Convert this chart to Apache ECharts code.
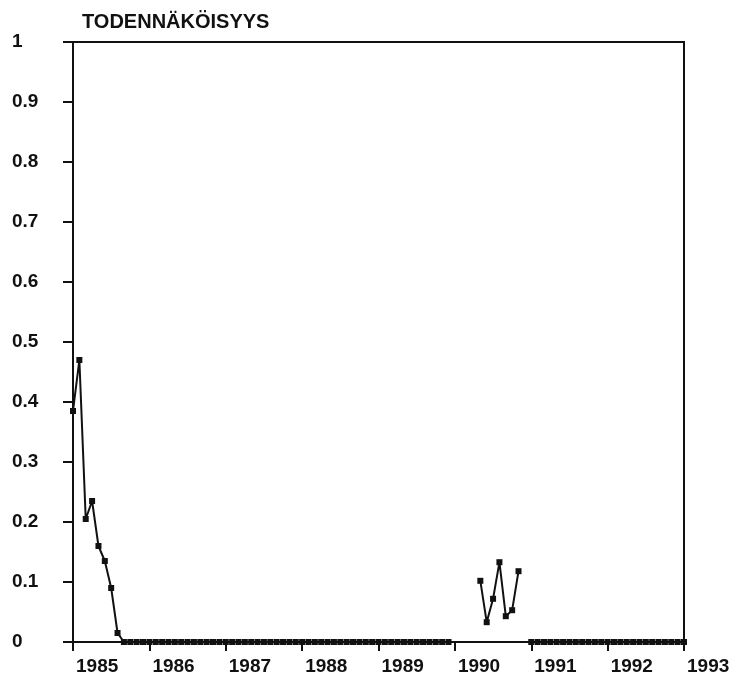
<!DOCTYPE html>
<html>
<head>
<meta charset="utf-8">
<script src="https://cdn.jsdelivr.net/npm/echarts@6/dist/echarts.min.js"></script>
<style>
html,body{margin:0;padding:0;background:#fff;}
#chart{width:738px;height:683px;}
</style>
</head>
<body>
<div id="chart"></div>
<script>
// monthly values, first month = Jan 1985
var startYear = 1985;
var yearTicks = [1985, 1986, 1987, 1988, 1989, 1990, 1991, 1992, 1993];
var probability = [
    0.385, 0.47, 0.205, 0.235, 0.16, 0.135, 0.09, 0.015,
    0, 0, 0, 0, 0, 0, 0, 0, 0, 0, 0, 0, 0, 0, 0, 0, 0, 0, 0, 0, 0, 0, 0, 0, 0, 0,
    0, 0, 0, 0, 0, 0, 0, 0, 0, 0, 0, 0, 0, 0, 0, 0, 0, 0, 0, 0, 0, 0, 0, 0, 0, 0,
    null, null, null, null,
    0.102, 0.033, 0.072, 0.133, 0.043, 0.053, 0.118,
    null,
    0, 0, 0, 0, 0, 0, 0, 0, 0, 0, 0, 0, 0, 0, 0, 0, 0, 0, 0, 0, 0, 0, 0, 0, 0
];

var seriesData = probability.map(function (v, i) {
    return [startYear + i / 12, v];
});

var chart = echarts.init(document.getElementById('chart'));
var font = 'Liberation Sans';
var option = {
    animation: false,
    backgroundColor: '#fff',
    title: {
        text: 'TODENNÄKÖISYYS',
        left: 77,
        top: 7,
        textStyle: {fontFamily: font, fontWeight: 'bold', fontSize: 20, color: '#111'}
    },
    grid: {
        left: 73, right: 54, top: 42, bottom: 41,
        show: true, borderColor: '#111', borderWidth: 2, backgroundColor: 'transparent'
    },
    xAxis: {
        type: 'value',
        min: yearTicks[0],
        max: yearTicks[yearTicks.length - 1],
        interval: 1,
        splitLine: {show: false},
        axisLine: {show: true, onZero: false, lineStyle: {color: '#111', width: 2}},
        axisTick: {show: true, length: 9, lineStyle: {color: '#111', width: 2}},
        axisLabel: {
            align: 'left', margin: 15, padding: [0, 0, 0, 3],
            fontFamily: font, fontWeight: 'bold', fontSize: 19, color: '#111',
            formatter: function (v) { return String(Math.round(v)); }
        }
    },
    yAxis: {
        type: 'value',
        min: 0, max: 1, interval: 0.1,
        splitLine: {show: false},
        axisLine: {show: true, lineStyle: {color: '#111', width: 2}},
        axisTick: {show: true, length: 10, lineStyle: {color: '#111', width: 2}},
        axisLabel: {
            align: 'left', margin: 61,
            fontFamily: font, fontWeight: 'bold', fontSize: 19, color: '#111',
            formatter: function (v) { return String(Math.round(v * 10) / 10); }
        }
    },
    series: [{
        type: 'line',
        data: seriesData,
        connectNulls: false,
        symbol: 'rect',
        symbolSize: 6,
        showAllSymbol: true,
        lineStyle: {color: '#111', width: 2},
        itemStyle: {color: '#111'}
    }]
};
chart.setOption(option);
</script>
</body>
</html>
